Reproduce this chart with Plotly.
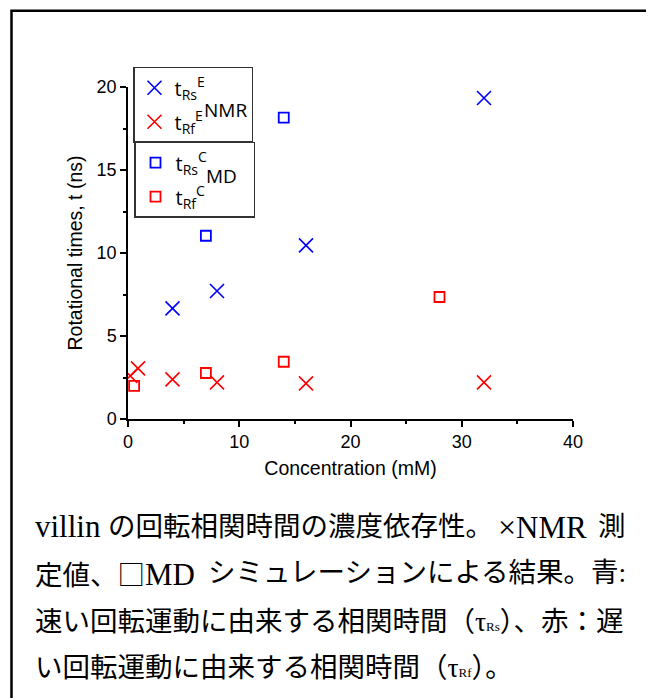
import plotly.graph_objects as go

# ---- data ----
nmr_fast_conc = [4, 8, 16, 32]
nmr_fast_t = [6.66, 7.71, 10.46, 19.34]
nmr_slow_conc = [0.2, 0.9, 4, 8, 16, 32]
nmr_slow_t = [2.6, 3.05, 2.39, 2.21, 2.15, 2.21]
md_fast_conc = [7, 14]
md_fast_t = [11.04, 18.15]
md_slow_conc = [0.55, 7, 14, 28]
md_slow_t = [2.0, 2.77, 3.45, 7.35]

x_ticks = [0, 10, 20, 30, 40]
y_ticks = [0, 5, 10, 15, 20]

LAT = "<span style='font-size:31px'>{}</span>"
CJK = "<span style='font-family:Noto Sans CJK JP'>{}</span>"

# caption pieces: (text, x_px, anchor, y_px)
caption_parts = [
    (LAT.format("villin"), 33, "left", 527),
    ("の回転相関時間の濃度依存性。", 106, "left", 527),
    ("<span style='font-size:32px'>×</span>" + LAT.format("NMR"), 496, "left", 527),
    ("測", 628, "right", 527),
    ("定値、" + CJK.format("□") + LAT.format("MD"), 33, "left", 573),
    ("シミュレーションによる結果。青:", 628, "right", 573),
    ("速い回転運動に由来する相関時間（τ<span style='font-size:13px'>Rs</span>）、赤：遅", 33, "left", 622),
    ("い回転運動に由来する相関時間（τ<span style='font-size:13px'>Rf</span>）。", 33, "left", 668),
]

# ---- layout geometry (reference pixels; page body has an 8px margin) ----
OFF = 8
W, H = 654 - OFF, 698 - OFF
L, R = 128 - OFF, 573 - OFF      # plot area left/right
T, B = 87.3 - OFF, 419.3 - OFF   # plot area top/bottom


def px(xp):
    return (xp - OFF - L) / (R - L)


def py(yp):
    return (B - (yp - OFF)) / (B - T)


BLUE = "#0000FF"
RED = "#FF0000"
pad = "&nbsp;" * 8

fig = go.Figure()
fig.add_trace(go.Scatter(
    x=nmr_fast_conc, y=nmr_fast_t, mode="markers", legend="legend", legendgroup="a",
    name="t<sub>Rs</sub><sup>E</sup>" + pad,
    marker=dict(symbol="x-thin-open", size=14, color=BLUE, line=dict(color=BLUE, width=1.6))))
fig.add_trace(go.Scatter(
    x=nmr_slow_conc, y=nmr_slow_t, mode="markers", legend="legend", legendgroup="b",
    name="t<sub>Rf</sub><sup>E</sup>" + pad,
    marker=dict(symbol="x-thin-open", size=14, color=RED, line=dict(color=RED, width=1.6))))
fig.add_trace(go.Scatter(
    x=md_fast_conc, y=md_fast_t, mode="markers", legend="legend2", legendgroup="c",
    name="t<sub>Rs</sub><sup>C</sup>" + pad,
    marker=dict(symbol="square-open", size=10, color=BLUE, line=dict(color=BLUE, width=1.8))))
fig.add_trace(go.Scatter(
    x=md_slow_conc, y=md_slow_t, mode="markers", legend="legend2", legendgroup="d",
    name="t<sub>Rf</sub><sup>C</sup>" + pad,
    marker=dict(symbol="square-open", size=10, color=RED, line=dict(color=RED, width=1.8))))

axis_font = dict(family="Liberation Sans, Arial, sans-serif", size=18, color="black")
title_font = dict(family="Liberation Sans, Arial, sans-serif", size=19.5, color="black")

leg_common = dict(
    xanchor="left", yanchor="top", bordercolor="#333333", borderwidth=1.5,
    bgcolor="rgba(255,255,255,0)", font=dict(family="Open Sans, Liberation Sans", size=20, color="black"),
    tracegroupgap=5, itemwidth=30, traceorder="grouped",
)

annotations = [
    dict(xref="paper", yref="paper", x=px(225.5), y=py(110), text="NMR", showarrow=False,
         xanchor="center", yanchor="middle",
         font=dict(family="Open Sans, Liberation Sans", size=19, color="black")),
    dict(xref="paper", yref="paper", x=px(221.5), y=py(176), text="MD", showarrow=False,
         xanchor="center", yanchor="middle",
         font=dict(family="Open Sans, Liberation Sans", size=19, color="black")),
]
for text, xx, anc, yy in caption_parts:
    annotations.append(dict(
        xref="paper", yref="paper", x=px(xx), y=py(yy), xanchor=anc, yanchor="middle",
        text=text, showarrow=False, align="left",
        font=dict(family="Liberation Serif, Noto Sans CJK JP, serif", size=27.5, color="black")))

fig.update_layout(
    width=W, height=H,
    margin=dict(l=L, r=W - R, t=T, b=H - B, autoexpand=False),
    paper_bgcolor="white", plot_bgcolor="white",
    showlegend=True,
    legend=dict(x=px(133), y=py(67), **leg_common),
    legend2=dict(x=px(134), y=py(142), **leg_common),
    annotations=annotations,
    shapes=[dict(type="rect", xref="paper", yref="paper",
                 x0=px(11.5), x1=px(647.5), y0=py(760), y1=py(11),
                 line=dict(color="black", width=2.5), fillcolor="rgba(0,0,0,0)", layer="below")],
    xaxis=dict(
        range=[0, 40], tickvals=x_ticks, ticktext=[str(v) for v in x_ticks],
        showline=True, linecolor="black", linewidth=1.5, mirror=False,
        ticks="outside", ticklen=6, tickwidth=1.5, tickcolor="black",
        minor=dict(dtick=5, tick0=0, ticks="outside", ticklen=3, tickwidth=1.5, tickcolor="black"),
        showgrid=False, zeroline=False, tickfont=axis_font,
        title=dict(text="Concentration (mM)", font=title_font, standoff=10),
    ),
    yaxis=dict(
        range=[0, 20], tickvals=y_ticks, ticktext=[str(v) for v in y_ticks],
        showline=True, linecolor="black", linewidth=1.5, mirror=False,
        ticks="outside", ticklen=6, tickwidth=1.5, tickcolor="black",
        minor=dict(dtick=2.5, tick0=0, ticks="outside", ticklen=3, tickwidth=1.5, tickcolor="black"),
        showgrid=False, zeroline=False, tickfont=axis_font,
        title=dict(text="Rotational times, t (ns)", font=title_font, standoff=9),
    ),
)

fig.write_html("out.html")
